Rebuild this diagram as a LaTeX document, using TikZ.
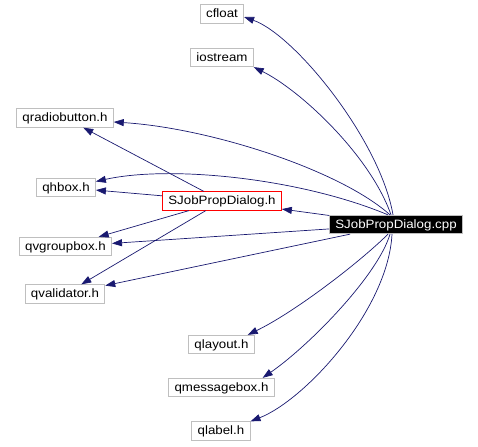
\documentclass[tikz,border=0pt]{standalone}
\usepackage{fontspec}
\setmainfont{Liberation Sans}[FakeStretch=1.1]
\usetikzlibrary{arrows.meta}
\definecolor{midnight}{HTML}{191970}

\begin{document}
\begin{tikzpicture}[x=1pt,y=-1pt,
    file/.style={draw=black!25, fill=white, line width=0.8pt, inner xsep=5.8pt, inner ysep=0pt,
        minimum height=18.5pt, text height=9.5pt, text depth=1.8pt, font=\fontsize{12.1}{14}\selectfont},
    inc/.style={draw=midnight, line width=0.7pt, -{Triangle[length=10pt,width=7pt]}}]
    \useasboundingbox (0,0) rectangle (478,446);

    % place the files
        \node[file] (cfloat) at (222,14) {cfloat};
        \node[file] (iostream) at (222,57.5) {iostream};
        \node[file] (radio) at (65,118) {qradiobutton.h};
        \node[file] (hbox) at (66,187.5) {qhbox.h};
        \node[file, draw=red] (hdr) at (222,201) {SJobPropDialog.h};
        \node[file] (vgroup) at (65.5,246.5) {qvgroupbox.h};
        \node[file] (validator) at (65,294) {qvalidator.h};
        \node[file, fill=black, text=white] (cpp) at (396,224.5) {SJobPropDialog.cpp};
        \node[file] (layout) at (221.5,344.5) {qlayout.h};
        \node[file] (msgbox) at (221.5,387.5) {qmessagebox.h};
        \node[file] (lbl) at (221,431) {qlabel.h};

    % includes going up
        \draw[inc] ([xshift=-3pt]cpp.north) .. controls (380,140) and (295,35) .. ([yshift=-3pt]cfloat.east);
        \draw[inc] ([xshift=-5pt]cpp.north) .. controls (370,155) and (300,90) .. (iostream.south east);
        \draw[inc] ([xshift=-6pt]cpp.north) .. controls (340,170) and (210,128) .. ([yshift=-4pt]radio.east);
        \draw[inc] ([xshift=-8pt]cpp.north) .. controls (300,178) and (170,165) .. ([yshift=6pt]hbox.east);

    % straight ones
        \draw[inc] (cpp) -- (hdr);
        \draw[inc] (cpp) -- (vgroup);
        \draw[inc] (cpp) -- (validator);

    % includes going down
        \draw[inc] ([xshift=-8pt]cpp.south) .. controls (360,262) and (295,312) .. ([xshift=-7pt]layout.north east);
        \draw[inc] ([xshift=-6pt]cpp.south) .. controls (378,275) and (310,345) .. ([xshift=-12pt]msgbox.north east);
        \draw[inc] ([xshift=-4pt]cpp.south) .. controls (388,310) and (305,400) .. (lbl.north east);

    % header includes
        \draw[inc] (hdr) -- (radio);
        \draw[inc] (hdr) -- (hbox);
        \draw[inc] (hdr) -- (vgroup);
        \draw[inc] (hdr) -- (validator);

\end{tikzpicture}
\end{document}
